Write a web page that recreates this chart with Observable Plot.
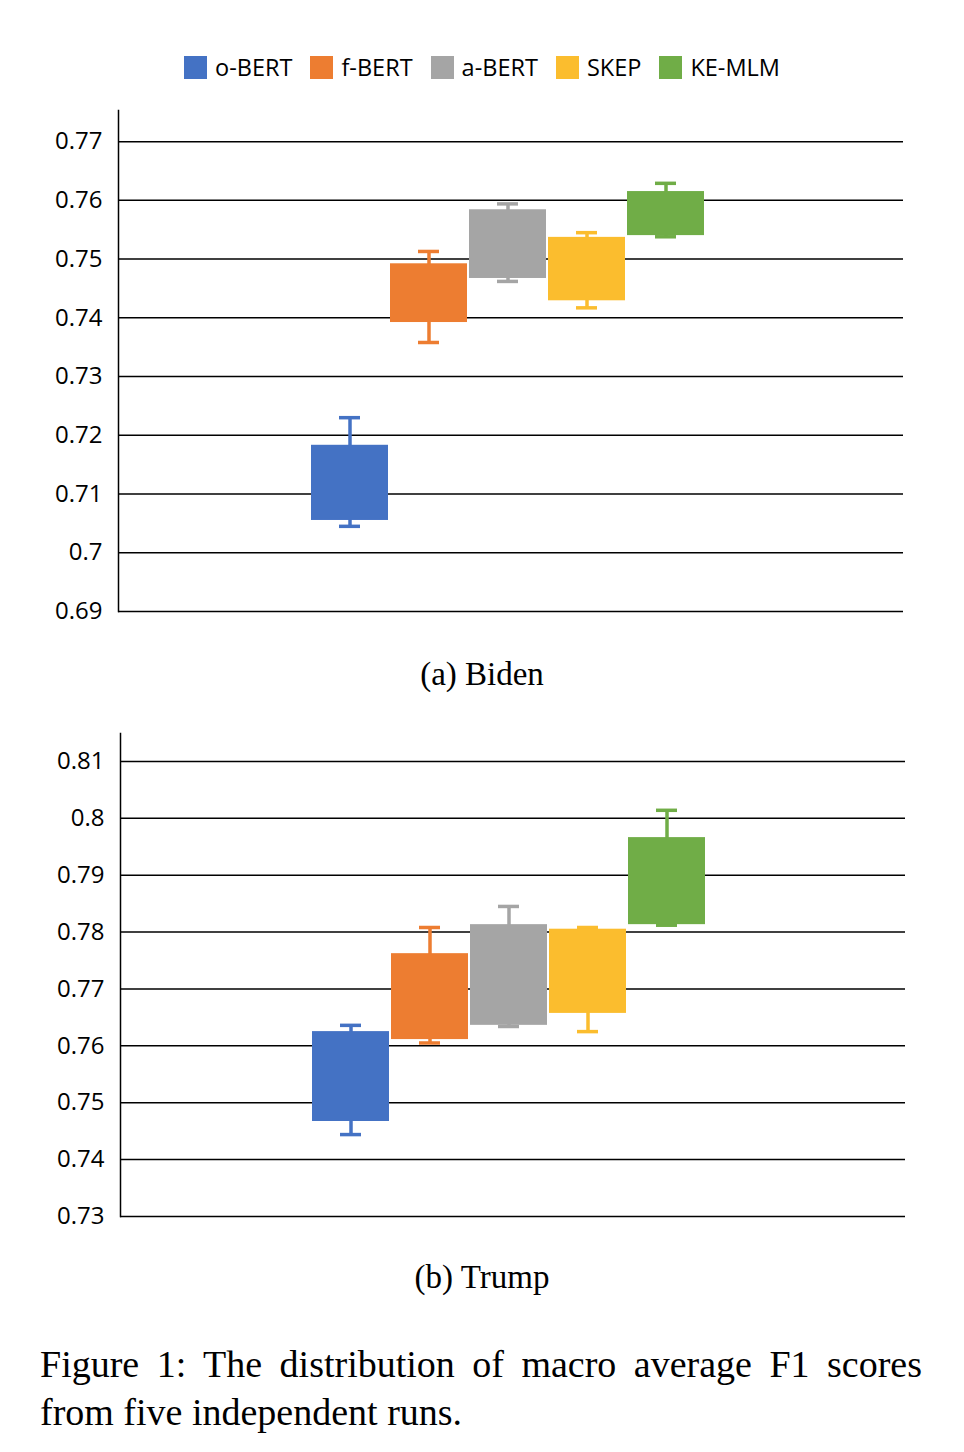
<!DOCTYPE html>
<html><head><meta charset="utf-8">
<script src="https://cdn.jsdelivr.net/npm/d3@7"></script>
<script src="https://cdn.jsdelivr.net/npm/@observablehq/plot@0.6"></script>
<style>
body{margin:0;width:964px;height:1452px;position:relative;background:#fff;font-family:"Open Sans",sans-serif}
.abs{position:absolute}
#legend{top:51px;left:0;width:964px;display:flex;justify-content:center;gap:18px;font-size:23.5px}
#legend span{display:flex;align-items:center;gap:8px}
#legend i{display:inline-block;width:23px;height:23px}
.cap{font-family:"Liberation Serif",serif;font-size:33px;width:964px;text-align:center;left:0}
#fig{font-family:"Liberation Serif",serif;font-size:38px;left:40px;width:882px;top:1340px;line-height:48px;text-align:justify;text-align-last:left}
</style></head><body>
<div id="legend" class="abs"></div>
<div id="a" class="abs" style="top:100px;left:0"></div>
<div class="abs cap" style="top:656px">(a) Biden</div>
<div id="b" class="abs" style="top:730px;left:0"></div>
<div class="abs cap" style="top:1259px">(b) Trump</div>
<div id="fig" class="abs">Figure 1: The distribution of macro average F1 scores from five independent runs.</div>
<script>
const models = ["o-BERT", "f-BERT", "a-BERT", "SKEP", "KE-MLM"];
const colors = ["#4472C4", "#ED7D31", "#A5A5A5", "#FBBD2E", "#70AD47"];

// [whiskerLow, boxLow, boxHigh, whiskerHigh]
const biden = [
  [0.7045, 0.7055, 0.7183, 0.7230],
  [0.7358, 0.7392, 0.7492, 0.7513],
  [0.7462, 0.7467, 0.7584, 0.7594],
  [0.7417, 0.7429, 0.7537, 0.7545],
  [0.7538, 0.7540, 0.7615, 0.7629]
];
const trump = [
  [0.7444, 0.7467, 0.7625, 0.7636],
  [0.7605, 0.7611, 0.7762, 0.7808],
  [0.7634, 0.7636, 0.7813, 0.7845],
  [0.7625, 0.7657, 0.7805, 0.7808],
  [0.7812, 0.7813, 0.7966, 0.8014]
];
const bidenTicks = [0.69, 0.70, 0.71, 0.72, 0.73, 0.74, 0.75, 0.76, 0.77];
const trumpTicks = [0.73, 0.74, 0.75, 0.76, 0.77, 0.78, 0.79, 0.80, 0.81];

const leg = document.getElementById("legend");
models.forEach((m, i) => {
  leg.insertAdjacentHTML("beforeend", `<span><i style="background:${colors[i]}"></i>${m}</span>`);
});

function chart(vals, ticks, top, opts) {
  const rows = vals.map((v, i) => ({model: models[i], wl: v[0], bl: v[1], bh: v[2], wh: v[3]}));
  return Plot.plot({
    width: 964, height: opts.height,
    marginLeft: opts.left, marginRight: 964 - opts.right, marginTop: opts.mt, marginBottom: opts.mb,
    style: {fontFamily: "Open Sans, sans-serif", fontSize: "24px", color: "#000", background: "#fff"},
    x: {type: "band", domain: models, range: [opts.c0 - 40, opts.c4 + 40], padding: 0.02, axis: null},
    y: {domain: [ticks[0], top], ticks, label: null},
    color: {domain: models, range: colors},
    marks: [
      Plot.ruleY(ticks, {stroke: "#000", strokeWidth: 1.5}),
      Plot.frame({anchor: "left", stroke: "#000", strokeWidth: 1.5}),
      Plot.axisY({ticks, tickSize: 0, tickPadding: 16, tickFormat: d => String(+d.toFixed(2)), label: null, fontSize: 24}),
      Plot.ruleX(rows, {x: "model", y1: "wl", y2: "wh", stroke: "model", strokeWidth: 3.5}),
      Plot.tickY(rows, {x: "model", y: "wl", stroke: "model", strokeWidth: 3.5, insetLeft: 28, insetRight: 28}),
      Plot.tickY(rows, {x: "model", y: "wh", stroke: "model", strokeWidth: 3.5, insetLeft: 28, insetRight: 28}),
      Plot.barY(rows, {x: "model", y1: "bl", y2: "bh", fill: "model"})
    ]
  });
}

document.getElementById("a").appendChild(chart(biden, bidenTicks, 0.7753,
  {height: 540, left: 118, right: 903, mt: 10, mb: 29, c0: 349, c4: 667}));
document.getElementById("b").appendChild(chart(trump, trumpTicks, 0.8149,
  {height: 520, left: 120, right: 905, mt: 3, mb: 34, c0: 350, c4: 668}));
</script>
</body></html>
